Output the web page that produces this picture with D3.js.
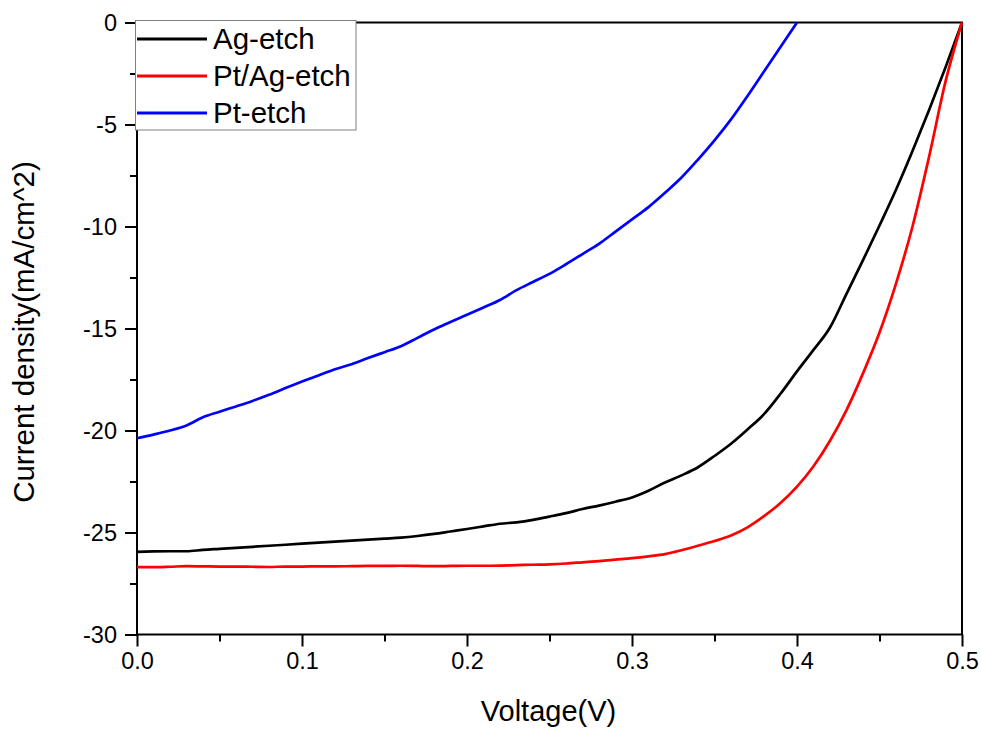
<!DOCTYPE html>
<html>
<head>
<meta charset="utf-8">
<script src="https://cdn.jsdelivr.net/npm/d3@7"></script>
<style>
  html, body { margin: 0; padding: 0; background: #ffffff; }
  svg { display: block; font-family: "Liberation Sans", Arial, sans-serif; }
</style>
</head>
<body>
<svg id="chart" width="981" height="731"></svg>
<script>
// J-V curves of three counter electrodes
const voltage = [0, 0.01, 0.02, 0.03, 0.04, 0.05, 0.06, 0.07, 0.08, 0.09,
  0.10, 0.11, 0.12, 0.13, 0.14, 0.15, 0.16, 0.17, 0.18, 0.19,
  0.20, 0.21, 0.22, 0.23, 0.24, 0.25, 0.26, 0.27, 0.28, 0.29,
  0.30, 0.31, 0.32, 0.33, 0.34, 0.35, 0.36, 0.37, 0.38, 0.39,
  0.40, 0.41, 0.42, 0.43, 0.44, 0.45, 0.46, 0.47, 0.48, 0.49, 0.50];

const agEtch = [-25.95, -25.93, -25.92, -25.92, -25.85, -25.80, -25.75, -25.70, -25.65, -25.60,
  -25.55, -25.50, -25.45, -25.40, -25.35, -25.30, -25.25, -25.17, -25.07, -24.95,
  -24.83, -24.70, -24.57, -24.50, -24.38, -24.22, -24.05, -23.85, -23.68, -23.49,
  -23.28, -22.95, -22.55, -22.20, -21.80, -21.25, -20.65, -19.95, -19.20, -18.20,
  -17.10, -16.05, -14.95, -13.30, -11.65, -9.95, -8.20, -6.30, -4.30, -2.20, 0];

const ptAgEtch = [-26.70, -26.70, -26.68, -26.65, -26.66, -26.67, -26.67, -26.68, -26.69, -26.67,
  -26.67, -26.66, -26.66, -26.65, -26.64, -26.64, -26.63, -26.64, -26.65, -26.64,
  -26.63, -26.63, -26.62, -26.60, -26.58, -26.56, -26.52, -26.46, -26.40, -26.33,
  -26.26, -26.17, -26.06, -25.87, -25.65, -25.42, -25.15, -24.75, -24.20, -23.55,
  -22.75, -21.75, -20.50, -19.00, -17.20, -15.20, -12.80, -10.00, -6.60, -2.90, 0];

const ptEtchVoltage = voltage.slice(0, 41);
const ptEtch = [-20.38, -20.20, -20.00, -19.75, -19.35, -19.08, -18.82, -18.55, -18.25, -17.92,
  -17.60, -17.30, -17.00, -16.75, -16.45, -16.16, -15.87, -15.46, -15.05, -14.68,
  -14.33, -13.97, -13.60, -13.12, -12.72, -12.32, -11.85, -11.35, -10.85, -10.25,
  -9.65, -9.05, -8.35, -7.60, -6.72, -5.78, -4.75, -3.60, -2.40, -1.20, 0];

const seriesNames = ["Ag-etch", "Pt/Ag-etch", "Pt-etch"];
const seriesColors = ["#000000", "#ff0000", "#0000ff"];

const xTicks = [0, 0.1, 0.2, 0.3, 0.4, 0.5];
const xMinorTicks = [0.05, 0.15, 0.25, 0.35, 0.45];
const yTicks = [0, -5, -10, -15, -20, -25, -30];
const yMinorTicks = [-2.5, -7.5, -12.5, -17.5, -22.5, -27.5];

const xTitle = "Voltage(V)";
const yTitle = "Current density(mA/cm^2)";

// plot area
const svg = d3.select("#chart");
const plotLeft = 137, plotRight = 962, plotTop = 22.5, plotBottom = 634.5;

const x = d3.scaleLinear().domain([0, 0.5]).range([plotLeft, plotRight]);
const y = d3.scaleLinear().domain([-30, 0]).range([plotBottom, plotTop]);

const series = [
  { name: seriesNames[0], color: seriesColors[0], xs: voltage, ys: agEtch },
  { name: seriesNames[1], color: seriesColors[1], xs: voltage, ys: ptAgEtch },
  { name: seriesNames[2], color: seriesColors[2], xs: ptEtchVoltage, ys: ptEtch }
];

// integer labels with a plain hyphen as the minus sign
const intLabel = d => String(d);

// minor ticks
svg.append("g")
  .attr("transform", `translate(0,${plotBottom})`)
  .call(d3.axisBottom(x).tickValues(xMinorTicks).tickSize(7).tickFormat(""))
  .call(g => g.select(".domain").remove())
  .call(g => g.selectAll("line").attr("stroke-width", 2));
svg.append("g")
  .attr("transform", `translate(${plotLeft},0)`)
  .call(d3.axisLeft(y).tickValues(yMinorTicks).tickSize(7).tickFormat(""))
  .call(g => g.select(".domain").remove())
  .call(g => g.selectAll("line").attr("stroke-width", 2));

// major ticks with labels
svg.append("g")
  .attr("transform", `translate(0,${plotBottom})`)
  .call(d3.axisBottom(x).tickValues(xTicks).tickSize(12).tickPadding(6).tickFormat(d => d.toFixed(1)))
  .call(g => g.select(".domain").remove())
  .call(g => g.selectAll("line").attr("stroke-width", 2))
  .call(g => g.selectAll("text").attr("font-size", 23.5).attr("fill", "#000")
    .attr("font-family", "Liberation Sans, Arial, sans-serif"));
svg.append("g")
  .attr("transform", `translate(${plotLeft},0)`)
  .call(d3.axisLeft(y).tickValues(yTicks).tickSize(12).tickPadding(8).tickFormat(intLabel))
  .call(g => g.select(".domain").remove())
  .call(g => g.selectAll("line").attr("stroke-width", 2))
  .call(g => g.selectAll("text").attr("font-size", 23.5).attr("fill", "#000")
    .attr("font-family", "Liberation Sans, Arial, sans-serif"));

// frame
svg.append("rect")
  .attr("x", plotLeft).attr("y", plotTop)
  .attr("width", plotRight - plotLeft).attr("height", plotBottom - plotTop)
  .attr("fill", "none").attr("stroke", "#000").attr("stroke-width", 2);

// curves
const line = d3.line().curve(d3.curveMonotoneX);
series.forEach(s => {
  svg.append("path")
    .datum(s.xs.map((v, i) => [x(v), y(s.ys[i])]))
    .attr("d", line)
    .attr("fill", "none")
    .attr("stroke", s.color)
    .attr("stroke-width", 2.7)
    .attr("stroke-linejoin", "round");
});

// axis titles
svg.append("text")
  .attr("x", (plotLeft + plotRight) / 2 - 1).attr("y", 721)
  .attr("text-anchor", "middle")
  .attr("font-size", 29)
  .text(xTitle);
svg.append("text")
  .attr("transform", `translate(34,332) rotate(-90)`)
  .attr("text-anchor", "middle")
  .attr("font-size", 29.5)
  .text(yTitle);

// legend
const legend = svg.append("g");
legend.append("rect")
  .attr("x", 135.5).attr("y", 20.5)
  .attr("width", 220.5).attr("height", 109.5)
  .attr("fill", "#fff").attr("stroke", "#808080").attr("stroke-width", 1);
series.forEach((s, i) => {
  const ly = 39 + i * 37;
  legend.append("line")
    .attr("x1", 137).attr("x2", 207)
    .attr("y1", ly).attr("y2", ly)
    .attr("stroke", s.color).attr("stroke-width", 3);
  legend.append("text")
    .attr("x", 213).attr("y", ly + 10)
    .attr("font-size", 29.5)
    .text(s.name);
});
</script>
</body>
</html>
